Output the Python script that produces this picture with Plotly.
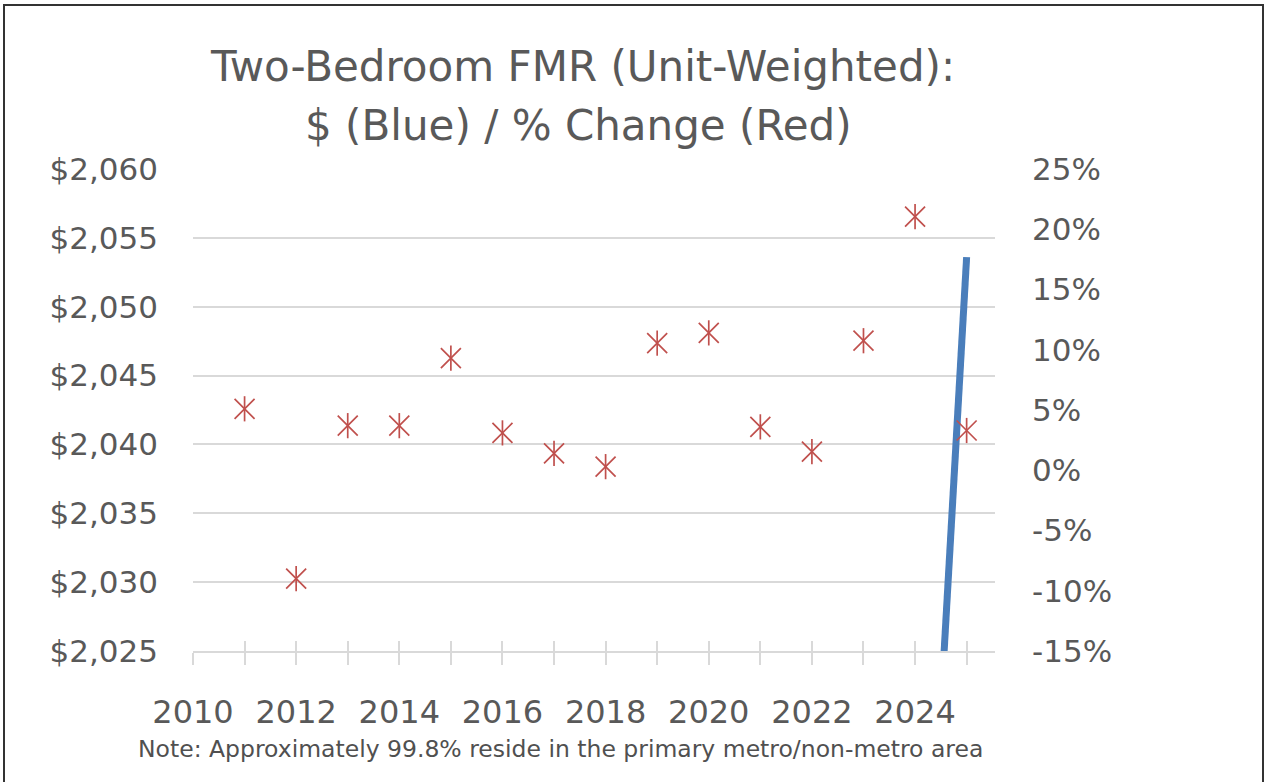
import plotly.graph_objects as go

# ---- data ----
years = [2011, 2012, 2013, 2014, 2015, 2016, 2017, 2018, 2019, 2020, 2021, 2022, 2023, 2024, 2025]
pct_change = [5.1, -9.0, 3.7, 3.7, 9.3, 3.1, 1.4, 0.3, 10.55, 11.4, 3.6, 1.55, 10.75, 21.05, 3.3]
fmr_years = [2024, 2025]
fmr_dollars = [1988.0, 2053.6]

pct_tick_vals = [-15, -10, -5, 0, 5, 10, 15, 20, 25]
pct_tick_text = ["-15%", "-10%", "-5%", "0%", "5%", "10%", "15%", "20%", "25%"]
year_tick_start = 2010

title_line1 = "Two-Bedroom FMR (Unit-Weighted):"
title_line2 = "$ (Blue) / % Change (Red)"
note_text = "Note: Approximately 99.8% reside in the primary metro/non-metro area"

# ---- style ----
FONT = "DejaVu Sans"
TXT = "#595959"
GRID = "#D9D9D9"
BLUE = "#4A7EBB"
RED = "#C0504D"

W, H = 1268, 782
L, R, T, B = 193, 273, 169, 131
pw, ph = W - L - R, H - T - B


def px_x(px):
    return (px - L) / pw


def px_y(py):
    return (H - B - py) / ph


fig = go.Figure()

fig.add_trace(go.Scatter(
    x=fmr_years, y=fmr_dollars, mode="lines",
    line=dict(color=BLUE, width=7),
    xaxis="x", yaxis="y", hoverinfo="skip"))

fig.add_trace(go.Scatter(
    x=years, y=pct_change, mode="markers",
    marker=dict(symbol="x-thin-open", size=20, color=RED, line=dict(color=RED, width=1.7)),
    xaxis="x2", yaxis="y2", hoverinfo="skip"))
fig.add_trace(go.Scatter(
    x=years, y=pct_change, mode="markers",
    marker=dict(symbol="line-ns-open", size=18, color=RED, line=dict(color=RED, width=1.7)),
    xaxis="x2", yaxis="y2", hoverinfo="skip"))

xrange = [2010, 2025.55]

fig.update_layout(
    width=W, height=H,
    margin=dict(l=L, r=R, t=T, b=B, pad=0),
    paper_bgcolor="white", plot_bgcolor="white",
    showlegend=False,
    font=dict(family=FONT, color=TXT),
    xaxis=dict(
        range=xrange, domain=[0, 1], anchor="y",
        tickmode="linear", tick0=year_tick_start, dtick=2,
        ticks="outside", ticklen=12, tickwidth=1.5, tickcolor=GRID,
        minor=dict(tickmode="linear", tick0=year_tick_start, dtick=1,
                   ticks="outside", ticklen=12, tickwidth=1.5, tickcolor=GRID, showgrid=False),
        showline=True, linecolor=GRID, linewidth=1.5,
        showgrid=False, zeroline=False,
        tickfont=dict(family=FONT, size=32, color=TXT),
        ticklabelstandoff=20,
    ),
    xaxis2=dict(
        range=xrange, overlaying="x", anchor="y", side="bottom",
        tickmode="linear", tick0=year_tick_start, dtick=1,
        ticks="inside", ticklen=10, tickwidth=1.5, tickcolor=GRID,
        showticklabels=False, showline=False, showgrid=False, zeroline=False,
    ),
    yaxis=dict(
        range=[2025, 2060], domain=[0, 1], anchor="x",
        tickmode="linear", tick0=2025, dtick=5,
        tickprefix="$", tickformat=",",
        showgrid=True, gridcolor=GRID, gridwidth=1.5,
        zeroline=False, showline=False, ticks="",
        tickfont=dict(family=FONT, size=31, color=TXT),
        ticklabelstandoff=34,
    ),
    yaxis2=dict(
        range=[-15, 25], overlaying="y", side="right", anchor="x",
        tickmode="array", tickvals=pct_tick_vals, ticktext=pct_tick_text,
        showgrid=False, zeroline=False, showline=False, ticks="",
        tickfont=dict(family=FONT, size=31, color=TXT),
        ticklabelstandoff=36,
    ),
    annotations=[
        dict(text=title_line1, xref="paper", yref="paper", x=px_x(582), y=px_y(66),
             xanchor="center", yanchor="middle", showarrow=False,
             font=dict(family=FONT, size=42, color=TXT)),
        dict(text=title_line2, xref="paper", yref="paper", x=px_x(578), y=px_y(125),
             xanchor="center", yanchor="middle", showarrow=False,
             font=dict(family=FONT, size=42, color=TXT)),
        dict(text=note_text, xref="paper", yref="paper", x=px_x(560), y=px_y(749),
             xanchor="center", yanchor="middle", showarrow=False,
             font=dict(family=FONT, size=23.5, color="#505050")),
    ],
    shapes=[
        dict(type="rect", xref="paper", yref="paper",
             x0=px_x(4), x1=px_x(1263), y0=px_y(790), y1=px_y(5),
             line=dict(color="#333333", width=2), fillcolor="rgba(0,0,0,0)", layer="above"),
    ],
)

fig.write_html("out.html", config={"displayModeBar": False},
               post_script="document.body.style.margin='0';")
